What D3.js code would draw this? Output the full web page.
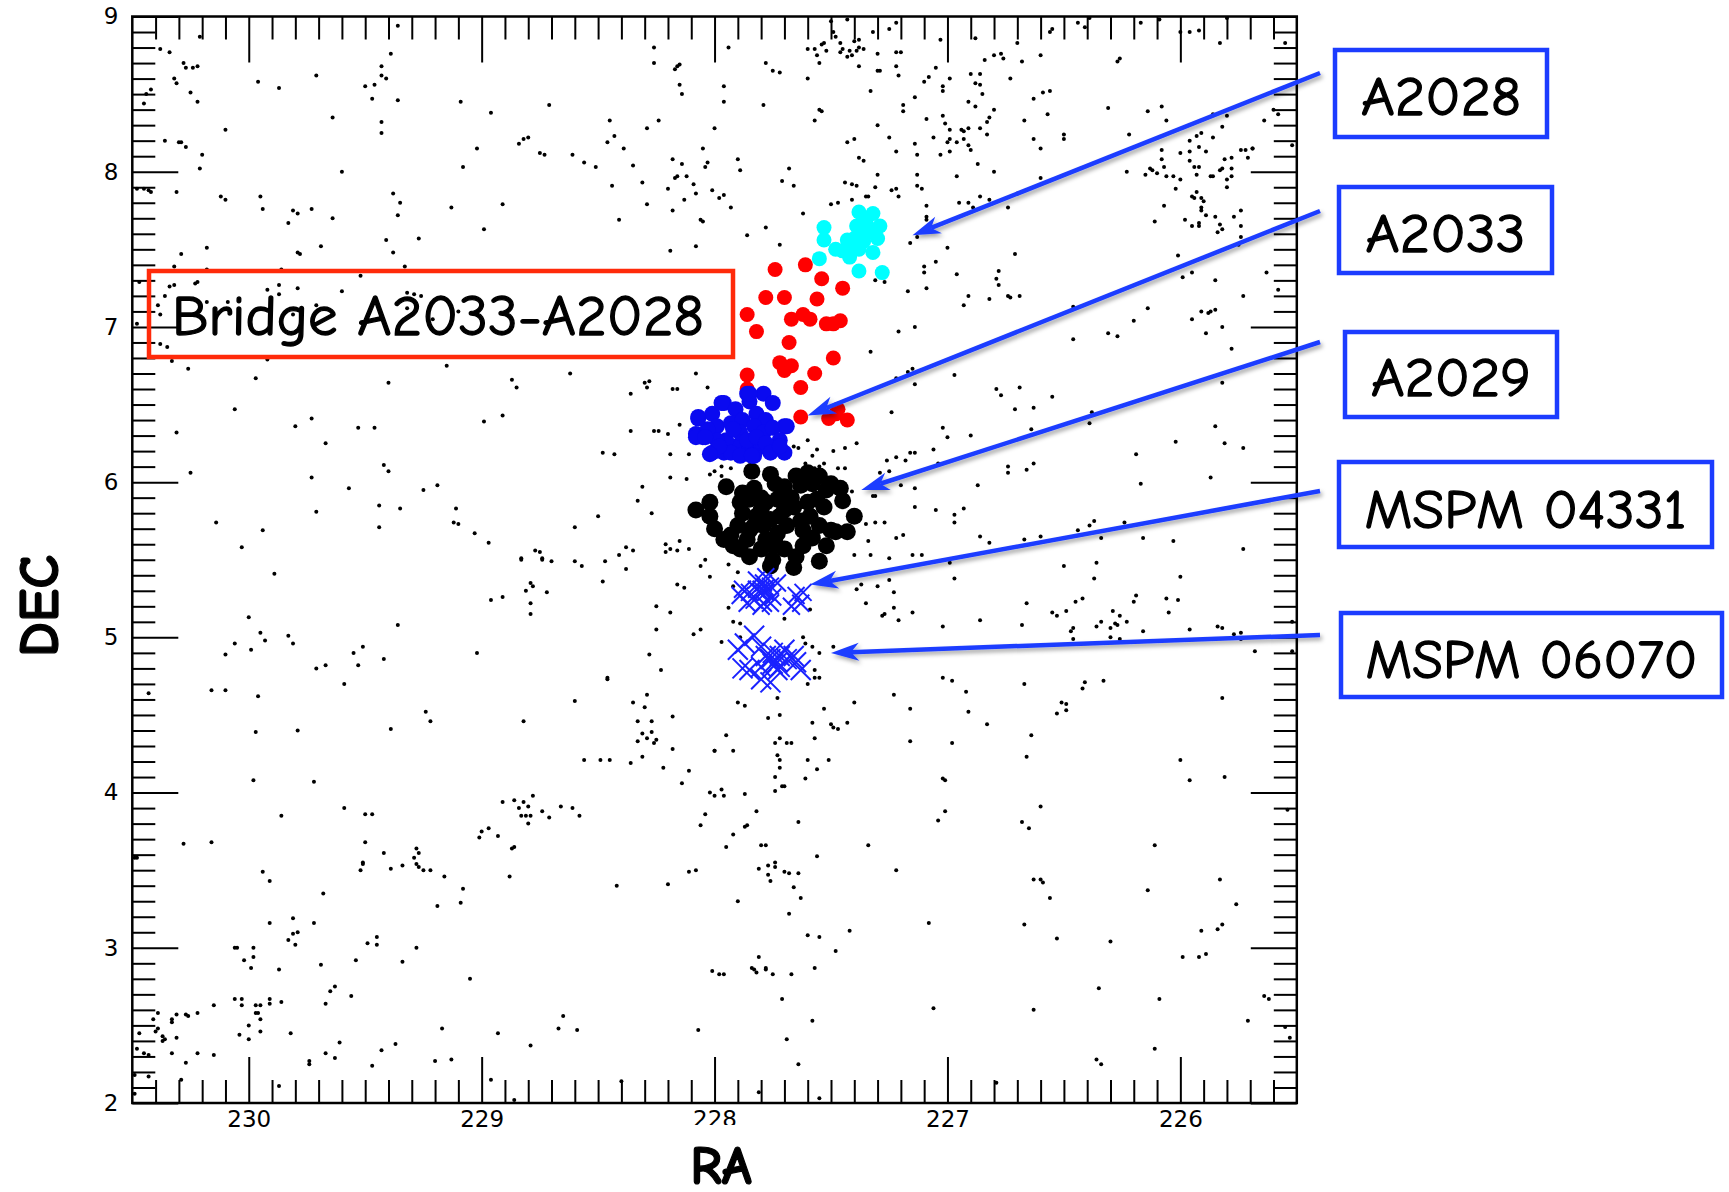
<!DOCTYPE html>
<html>
<head>
<meta charset="utf-8">
<script src="https://cdn.jsdelivr.net/npm/d3@7"></script>
<style>
  html, body { margin: 0; padding: 0; background: #fff; }
  svg { display: block; }
</style>
</head>
<body>
<svg id="chart" width="1729" height="1192"></svg>
<script>
// ---- Field galaxies: [RA, DEC] in degrees ----
const fieldGalaxies = [
[229.36,8.94],[230.21,8.87],[230.38,8.79],[230.34,8.77],[230.28,8.70],[230.27,8.67],[230.24,8.67],[230.22,8.68],[230.32,8.60],[230.31,8.57],[230.25,8.51],[230.22,8.45],[230.42,8.53],[230.44,8.50],[230.45,8.44],[229.96,8.58],[229.87,8.54],[229.71,8.62],[229.39,8.76],[229.43,8.68],[229.43,8.62],[229.41,8.60],[229.50,8.55],[229.46,8.56],[229.47,8.47],[229.36,8.46],[229.43,8.32],[229.43,8.25],[229.64,8.35],[229.09,8.45],[228.96,8.38],[228.71,8.43],[228.26,8.80],[228.26,8.70],[228.17,8.66],[228.15,8.69],[228.16,8.68],[228.15,8.56],[228.14,8.50],[228.45,8.33],[228.24,8.33],[228.29,8.28],[228.43,8.23],[228.46,8.19],[228.39,8.15],[228.00,8.28],[228.05,8.15],[228.03,8.06],[228.04,8.03],[228.18,8.08],[228.14,8.05],[228.35,8.04],[228.17,7.96],[228.16,7.97],[228.12,7.97],[228.31,7.93],[228.44,7.91],[228.20,7.89],[228.09,7.92],[228.08,7.86],[228.01,7.88],[228.13,7.82],[228.29,7.79],[228.18,7.75],[228.41,7.69],[228.06,7.69],[228.05,7.68],[228.08,7.52],[228.19,7.49],[228.61,8.11],[228.56,8.06],[228.51,8.03],[228.75,8.12],[228.73,8.11],[228.84,8.18],[228.82,8.21],[228.80,8.22],[229.02,8.15],[229.08,8.03],[229.13,7.77],[228.91,7.79],[228.99,7.63],[229.60,8.00],[230.10,8.27],[230.36,8.20],[230.30,8.19],[230.29,8.19],[230.27,8.16],[230.20,8.11],[230.21,8.02],[230.48,7.89],[230.45,7.89],[230.43,7.88],[230.42,7.87],[230.31,7.87],[230.12,7.84],[230.10,7.82],[229.95,7.84],[229.94,7.76],[229.81,7.75],[229.79,7.73],[229.83,7.67],[229.73,7.76],[229.64,7.70],[229.38,7.86],[229.35,7.80],[229.36,7.72],[229.41,7.56],[229.27,7.57],[229.38,7.48],[229.33,7.39],[229.69,7.52],[229.79,7.48],[229.78,7.47],[230.18,7.51],[230.29,7.47],[230.32,7.39],[230.18,7.37],[229.86,7.37],[229.52,7.33],[228.16,7.36],
[230.47,7.29],[230.34,7.26],[230.32,7.27],[230.23,7.28],[230.22,7.29],[230.36,7.20],[230.39,7.14],[230.38,7.08],[230.18,7.16],[230.09,7.16],[229.92,7.24],[229.87,7.27],[229.87,7.21],[229.79,7.25],[229.60,7.23],[229.71,7.14],[229.81,7.08],[229.32,7.22],[229.29,7.21],[229.26,7.20],[229.32,7.12],[229.45,7.05],[229.43,7.05],[229.21,7.05],[229.10,7.10],[230.38,6.89],[230.35,6.87],[230.48,7.02],
[230.33,6.78],[229.92,6.79],[230.26,6.73],[229.97,6.67],[229.40,6.64],[229.15,6.75],[228.87,6.66],[228.85,6.61],[228.62,6.70],[228.30,6.64],[228.29,6.61],[228.28,6.65],[228.36,6.57],[228.18,6.60],[228.16,6.60],[228.08,6.70],[228.03,6.61],[230.06,6.47],[230.31,6.32],[229.80,6.36],[229.73,6.41],[229.67,6.25],[229.53,6.35],[229.46,6.35],[228.99,6.39],[228.91,6.43],[228.36,6.33],[228.26,6.33],[228.24,6.33],[228.20,6.31],[228.15,6.37],[228.48,6.19],[228.43,6.18],[228.19,6.18],[228.11,6.18],[228.02,6.05],[228.00,6.07],[228.19,6.03],[228.12,6.02],[230.25,6.06],[229.42,6.11],[229.40,6.07],[229.73,6.03],[229.57,5.96],[229.25,5.95],[229.19,5.98],[228.31,5.97],[228.33,5.88],[228.27,5.80],[230.14,5.74],[229.94,5.69],[229.71,5.81],[229.44,5.85],[229.44,5.71],[229.35,5.83],[229.11,5.83],[229.12,5.74],[229.10,5.73],[229.03,5.67],[228.97,5.61],[230.03,5.58],[228.77,5.56],[228.75,5.55],[228.74,5.51],[228.83,5.51],[228.60,5.71],[228.50,5.78],[228.38,5.58],[228.35,5.56],[228.41,5.53],[228.21,5.60],[228.19,5.57],[228.16,5.56],[228.15,5.62],[228.21,5.55],[228.11,5.57],[228.00,5.77],
[227.49,8.90],[227.50,8.97],[227.43,8.98],[227.48,8.87],[227.46,8.83],[227.45,8.79],[227.46,8.77],[227.42,8.78],[227.41,8.75],[227.39,8.78],[227.38,8.80],[227.36,8.79],[227.40,8.84],[227.38,8.85],[227.53,8.83],[227.54,8.82],[227.57,8.79],[227.60,8.79],[227.56,8.75],[227.52,8.78],[227.43,8.74],[227.32,8.90],[227.25,8.92],[227.22,8.96],[227.30,8.76],[227.22,8.77],[227.20,8.77],[227.38,8.68],[227.55,8.70],[227.94,8.80],[227.78,8.70],[227.75,8.65],[227.72,8.64],[227.60,8.60],[227.96,8.55],[227.96,8.45],[227.79,8.43],[227.55,8.40],[227.54,8.39],[227.57,8.33],[227.30,8.65],[227.29,8.65],[227.22,8.68],[227.21,8.62],[227.33,8.52],[227.14,8.48],[227.19,8.43],[227.19,8.39],[227.10,8.58],[227.08,8.61],[227.05,8.67],[227.03,8.85],[227.02,8.55],[227.02,8.52],[226.99,8.60],[227.09,8.34],
[227.02,8.36],[227.01,8.31],[226.99,8.27],[226.99,8.21],[227.00,8.19],[226.96,8.19],[226.93,8.26],[226.91,8.28],[226.93,8.21],[226.91,8.17],[226.90,8.14],[226.94,8.27],[227.06,8.22],[227.03,8.11],[226.99,8.13],[227.14,8.18],[227.13,8.11],[227.22,8.13],[227.25,8.22],[227.30,8.30],[227.43,8.19],[227.40,8.21],[227.38,8.09],[227.36,8.07],
[226.90,8.63],[226.86,8.63],[226.88,8.57],[226.85,8.50],[226.86,8.56],[226.91,8.45],[226.88,8.42],[226.80,8.40],[226.82,8.35],[226.83,8.32],[226.86,8.28],[226.83,8.24],[226.73,8.60],[226.80,8.75],[226.77,8.76],[226.76,8.73],[226.84,8.72],[226.70,8.83],[226.68,8.71],[226.60,8.75],[226.63,8.47],[226.59,8.51],[226.56,8.52],[226.57,8.37],[226.67,8.33],[226.63,8.21],[226.60,8.15],[226.50,8.24],[226.50,8.21],[226.87,8.05],[226.80,8.00],[226.96,7.97],[226.60,7.96],[226.91,7.80],[226.89,7.77],[226.86,7.84],[226.82,7.82],[226.95,7.80],[226.74,7.77],[226.70,7.86],[227.09,7.78],[227.09,7.71],[227.09,7.69],[227.13,7.98],[227.13,7.91],[227.11,7.89],[227.22,7.89],[227.21,7.84],[227.24,7.88],[227.30,7.98],[227.31,7.90],[227.35,7.84],[227.34,7.84],[227.44,7.93],[227.41,7.92],[227.39,7.91],[227.41,7.82],[227.47,7.80],[227.50,7.79],[227.68,8.02],[227.71,7.94],[227.66,7.91],[227.90,8.08],[227.89,8.01],[227.98,7.83],[227.96,7.85],[227.93,7.77],[227.62,7.73],[227.78,7.64],[227.86,7.59],[227.72,7.53],
[227.16,7.54],[227.13,7.58],[227.00,7.51],[227.05,7.42],[227.10,7.39],[227.10,7.35],[227.17,7.23],[227.09,7.25],[226.96,7.34],[226.91,7.20],[226.93,7.14],[226.82,7.18],[226.78,7.36],[226.79,7.31],[226.78,7.27],[226.74,7.20],[226.73,7.19],[226.69,7.20],[226.71,7.47],[227.31,7.30],[227.27,7.29],[227.21,6.97],[227.14,7.00],[227.33,6.84],[227.17,6.71],[227.15,6.73],[227.22,6.67],[227.14,6.63],[226.97,6.69],[227.24,6.45],[226.46,6.92],[226.31,6.96],[226.27,6.94],[226.46,7.13],[226.20,7.04],[226.14,7.12],
[225.95,7.05],[225.91,7.10],[225.88,7.09],[225.87,7.10],[225.85,7.11],[225.89,6.96],[225.82,7.00],[225.78,6.86],[225.73,7.20],[225.63,7.35],[225.58,7.24],[225.69,8.15],[225.64,8.33],[225.60,8.40],[225.58,8.37],[225.55,8.83],[225.52,8.17],
[226.23,8.00],[226.15,7.98],[226.13,8.02],[226.12,8.01],[226.10,7.99],[226.06,7.97],[226.03,7.97],[226.00,7.95],[226.02,7.89],[226.08,8.08],[226.08,8.14],[226.00,8.12],[225.96,8.07],[225.96,8.13],[225.94,8.03],[225.92,8.03],[225.93,7.98],[225.89,8.13],[225.87,7.97],[225.86,7.97],[225.83,8.01],[225.81,8.08],[225.82,8.02],[225.78,8.02],[225.78,8.09],[225.80,7.95],[225.80,7.90],[225.78,7.97],[225.74,8.14],[225.72,8.14],[225.71,8.09],[225.69,8.15],[225.95,7.84],[225.93,7.87],[225.91,7.83],[225.90,7.81],[225.94,7.83],[225.91,7.77],[225.91,7.75],[225.89,7.72],[225.85,7.71],[225.83,7.66],[225.82,7.63],[225.77,7.71],[225.74,7.75],[225.74,7.65],[225.95,7.65],[225.98,7.69],[225.92,7.67],[225.92,7.65],[225.84,7.61],[225.74,7.58],[225.75,7.53],[225.99,7.32],[225.95,7.35],[225.85,7.30],[226.01,7.46],[226.07,7.78],[226.11,7.68],[226.07,8.03],[226.06,8.33],[226.14,8.39],[226.08,8.42],[226.22,8.24],[226.31,8.41],[225.86,8.37],[225.96,8.20],[225.93,8.23],[225.91,8.25],[225.86,8.22],[225.82,8.29],[225.80,8.36],[225.92,8.16],
[226.27,8.71],[226.26,8.73],[226.17,8.96],[226.09,8.98],[226.00,8.90],[225.96,8.90],[225.92,8.91],[225.83,8.83],[225.80,8.99],[226.44,8.96],[226.41,8.93],[226.39,8.99],[226.55,8.92],[226.56,8.90],[226.88,8.86],
[226.79,6.60],[226.77,6.56],[226.69,6.61],[226.71,6.47],[226.63,6.48],[226.55,6.55],[226.39,6.38],[226.38,6.45],[226.64,6.34],[227.02,6.35],[227.00,6.29],[226.90,6.30],[226.19,6.18],[226.17,5.99],[225.87,6.03],[225.82,6.64],[225.85,6.36],[225.81,6.25],[225.73,6.22],[226.02,6.26],[226.74,6.10],[226.74,6.06],[226.66,6.08],[226.63,6.12],[226.87,5.98],[227.14,5.84],[227.05,5.82],[226.97,5.79],[226.93,5.83],[226.97,5.74],[226.86,5.65],[226.82,5.61],[226.67,5.63],[226.60,5.65],[226.39,5.72],[226.37,5.75],[226.44,5.69],[226.34,5.64],[226.24,5.74],[226.16,5.64],[226.03,5.62],[225.73,5.57],
[227.35,5.73],[227.31,5.74],[227.27,5.74],[227.34,5.62],[227.22,5.64],[227.19,5.66],[227.40,5.53],[227.33,5.53],[227.25,5.51],[227.15,5.53],[227.11,5.53],[227.32,5.91],[227.31,5.91],[227.41,5.94],[227.26,6.14],[227.22,6.16],[227.18,6.14],[227.16,6.19],[227.14,6.19],[227.06,6.21],[227.29,6.06],[227.25,6.07],[227.20,5.98],[227.14,5.96],[227.04,6.12],[227.60,6.27],[227.66,6.23],[227.64,6.22],[227.56,6.21],[227.58,6.17],[227.44,6.22],[227.39,6.25],[227.49,6.20],[227.47,6.09],[227.44,6.09],[227.53,6.12],[227.55,6.10],[227.57,6.09],[227.61,6.12],[227.97,6.10],[227.97,6.04],[227.93,6.09],
[229.89,5.41],[230.00,5.13],[229.95,5.03],[229.93,4.98],[229.99,4.92],[230.06,4.96],[230.10,4.89],[229.83,5.01],[229.81,4.96],[230.43,4.64],[230.16,4.66],[230.10,4.66],[229.96,4.62],[229.97,4.39],[229.79,4.40],[229.71,4.80],[229.67,4.82],[229.59,4.70],[229.55,4.90],[229.53,4.82],[229.51,4.94],[229.42,4.86],[229.36,5.08],[229.39,4.41],[229.24,4.52],[229.22,4.46],[229.02,4.90],[228.96,5.24],[228.91,5.26],[228.83,5.50],[228.74,5.50],[228.70,5.49],[228.81,5.30],[228.79,5.35],[228.78,5.33],[228.79,5.22],[228.79,5.15],[228.72,5.29],[228.60,5.49],[228.57,5.46],[228.47,5.49],[228.38,5.44],[228.48,5.36],[228.16,5.34],[228.13,5.32],[228.06,5.46],[228.02,5.39],[228.04,5.50],[228.25,5.20],[228.19,5.16],[228.25,5.05],[228.09,5.02],[228.06,5.05],[228.28,4.89],[228.23,4.79],[228.46,4.74],[228.46,4.73],[228.60,4.59],[228.82,4.46],
[228.35,4.58],[228.30,4.55],[228.29,4.63],[228.33,4.46],[228.27,4.46],[228.18,4.49],[228.31,4.38],[228.29,4.35],[228.27,4.39],[228.26,4.32],[228.25,4.34],[228.33,4.33],[228.31,4.23],[228.18,4.28],[228.36,4.19],[228.22,4.16],[228.56,4.21],[228.49,4.21],[228.45,4.21],[228.11,4.14],[228.14,4.06],[228.02,4.00],[228.00,3.98],[228.00,4.27],[228.04,3.86],[228.06,3.79],[228.11,3.49],[228.08,3.50],[228.20,3.41],[228.42,3.40],[228.01,2.85],[228.07,2.47],[228.40,2.14],[228.86,2.02],[228.96,2.15],[228.79,2.37],[228.67,2.48],[228.65,2.56],[228.59,2.47],[228.93,2.45],[229.05,2.80],[229.17,2.48],[229.13,2.28],[229.20,2.27],[229.37,2.38],[229.43,2.34],[229.47,2.24],[229.61,2.39],[229.63,2.29],[229.67,2.32],[229.74,2.27],[229.74,2.25],[229.56,2.69],[229.63,2.75],[229.65,2.72],[229.67,2.64],[229.54,2.92],[229.49,3.03],[229.45,3.07],[229.45,3.02],[229.34,2.91],[229.28,3.00],[229.69,2.89],[229.72,3.16],[229.68,3.35],[229.81,3.19],[229.79,3.10],[229.81,3.09],[229.83,3.05],[229.80,3.02],[229.91,3.16],[229.87,2.86],[229.86,2.65],
[229.91,2.67],[229.91,2.64],[229.95,2.63],[229.97,2.63],[229.97,2.58],[229.96,2.58],[229.95,2.54],[229.95,2.46],[230.00,2.50],[230.00,2.41],[230.04,2.44],[230.03,2.63],[230.06,2.67],[230.03,2.67],[229.98,3.00],[229.98,2.94],[229.99,2.87],[230.02,2.92],[230.06,3.00],[230.05,3.00],[229.82,2.45],[230.15,2.63],[230.15,2.31],[230.22,2.32],[230.27,2.26],[230.33,2.32],[230.22,2.58],[230.26,2.56],[230.27,2.57],[230.31,2.57],[230.33,2.54],[230.33,2.52],[230.31,2.42],[230.39,2.58],[230.41,2.54],[230.39,2.48],[230.40,2.46],[230.37,2.43],[230.37,2.40],[230.36,2.41],[230.47,2.45],[230.48,2.35],[230.45,2.32],[230.43,2.31],[230.49,2.18],[230.43,2.17],[230.49,2.06],[230.29,2.15],[229.87,2.11],[230.28,3.67],[230.16,3.68],[230.49,3.58],[230.48,3.58],[229.94,3.49],[229.91,3.43],[229.98,4.08],[229.72,4.07],[229.86,3.85],[229.59,3.90],[229.50,3.86],[229.47,3.86],[229.50,3.68],[229.42,3.61],[229.51,3.55],[229.51,3.54],[229.52,3.50],[229.39,3.51],[229.34,3.53],[229.29,3.58],[229.28,3.64],[229.27,3.61],[229.28,3.54],[229.27,3.52],[229.25,3.50],[229.22,3.50],[229.16,3.46],[229.08,3.38],[229.09,3.29],[229.19,3.27],[228.88,3.46],[229.01,3.71],[229.00,3.75],[228.97,3.77],[228.93,3.72],[228.87,3.64],[228.86,3.65],
[228.91,3.94],[228.86,3.95],[228.84,3.90],[228.83,3.85],[228.81,3.85],[228.82,3.94],[228.80,3.91],[228.79,3.85],[228.78,3.98],[228.80,3.80],[228.74,3.88],[228.71,3.84],[228.66,3.91],[228.61,3.90],[228.58,3.85],
[227.94,5.47],[227.90,5.42],[227.92,5.33],[227.94,5.19],[227.92,5.10],[227.89,5.09],[227.97,4.97],[227.89,5.00],[227.59,5.18],[227.70,5.12],[227.62,5.00],[227.61,4.96],[227.58,4.94],[227.55,4.90],[227.49,4.94],[227.57,4.79],[227.57,4.74],[227.55,4.74],[227.60,4.70],[227.73,4.61],[227.90,4.58],[227.87,4.56],[227.77,4.48],[227.72,4.50],[227.53,4.54],[227.58,4.45],[227.57,4.35],[227.50,4.44],[227.49,4.42],[227.47,4.41],[227.43,4.45],[227.40,4.58],[227.72,4.35],[227.74,4.32],[227.69,4.32],[227.67,4.32],[227.95,4.37],[227.92,4.27],[228.00,4.27],[227.73,4.24],[227.72,4.21],[227.72,4.16],[227.74,4.10],[227.74,4.01],[227.71,4.04],[227.70,4.04],[227.60,4.21],[227.51,4.21],[227.56,4.15],[227.61,4.09],[227.97,4.02],[227.96,3.98],[227.87,3.99],[227.82,3.88],[227.87,3.78],[227.86,3.79],[227.92,3.73],[227.64,3.81],[227.95,3.65],[227.80,3.66],[227.78,3.66],[227.56,3.59],
[227.81,3.51],[227.77,3.47],[227.76,3.43],[227.77,3.53],[227.74,3.55],[227.74,3.52],[227.70,3.49],[227.68,3.48],[227.64,3.48],[227.66,3.39],[227.63,3.32],[227.90,3.30],[227.68,3.22],[227.60,3.08],[227.55,3.07],[227.42,3.11],[227.48,2.98],[227.81,2.94],[227.84,2.87],[227.83,2.86],[227.82,2.84],[227.78,2.87],[227.78,2.86],[227.75,2.83],[227.67,2.83],[227.57,2.87],[227.98,2.83],[227.96,2.83],[227.71,2.67],[227.58,2.53],[227.69,2.41],[227.64,2.25],[227.81,2.07],[227.55,2.03],[227.34,3.66],[227.22,3.50],[227.08,3.16],[227.06,2.61],[226.79,2.13],
[227.39,5.31],[227.37,5.34],[227.30,5.33],[227.35,5.22],[227.25,5.37],[227.23,5.29],[227.23,5.19],[227.28,5.14],[227.27,5.15],[227.21,5.11],[227.15,5.16],[226.86,5.11],[227.02,5.07],[226.97,5.38],[226.99,5.48],[227.23,4.63],[227.16,4.54],[227.16,4.33],[227.02,4.74],[226.98,4.72],[226.92,4.65],[226.91,4.52],[226.83,4.44],[226.98,4.32],[227.02,4.09],[227.01,4.08],[227.01,3.88],[227.04,3.82],[226.68,5.08],[226.66,5.22],[226.67,4.70],[226.64,4.37],[226.66,4.23],[226.68,3.81],[226.65,3.77],[226.60,3.91],[226.63,3.44],[226.60,3.44],[226.59,3.42],[226.56,3.32],[226.67,3.15],[226.53,3.06],[226.63,2.60],
[226.55,5.16],[226.53,5.14],[226.49,5.17],[226.50,5.46],[226.45,5.23],[226.42,5.25],[226.47,5.04],[226.46,5.06],[226.46,4.99],[226.36,5.07],[226.34,5.10],[226.29,5.17],[226.28,5.09],[226.27,5.08],[226.26,5.14],[226.23,5.10],[226.30,5.06],[226.30,5.00],[226.26,4.99],[226.36,5.48],[226.37,5.38],[226.20,5.23],[226.19,5.27],[226.16,5.04],[226.06,5.25],[226.05,5.16],[226.01,5.24],[226.00,5.39],[225.96,5.05],[225.84,5.07],[225.82,5.06],[225.77,5.02],[225.74,5.03],[225.74,4.99],[225.68,4.91],[225.52,5.10],[225.52,4.91],[226.42,4.67],[226.41,4.71],[226.33,4.72],[226.51,4.58],[226.49,4.57],[226.49,4.53],[226.53,4.51],[225.82,4.61],[226.00,4.21],[225.96,4.08],[225.81,4.10],[226.11,3.66],[226.14,3.37],[225.83,3.44],[225.76,3.28],[225.91,3.11],[225.84,3.12],[225.82,3.15],[225.99,2.94],[225.92,2.94],[225.89,2.96],[226.30,3.04],[226.35,2.74],[226.09,2.67],[226.11,2.35],[226.36,2.28],[226.34,2.25],[225.71,2.53],[225.64,2.69],[225.62,2.67],[225.55,2.49],[225.53,2.42],[225.54,3.89]
];

// ---- Cluster members: [RA, DEC] ----
const a2028Members = [
[227.38,7.74],[227.32,7.73],[227.29,7.65],[227.30,7.57],[227.39,7.65],[227.35,7.60],[227.36,7.55],[227.38,7.50],[227.41,7.52],[227.43,7.48],[227.45,7.49],[227.48,7.50],[227.43,7.56],[227.40,7.57],[227.33,7.63],[227.32,7.48],[227.38,7.36],[227.28,7.35],[227.53,7.64],[227.53,7.56],[227.55,7.44],[227.42,7.45],[227.35,7.68]
];
const bridgeMembers = [
[227.74,7.37],[227.61,7.40],[227.54,7.31],[227.45,7.25],[227.78,7.19],[227.70,7.19],[227.56,7.18],[227.86,7.08],[227.82,6.97],[227.67,7.05],[227.62,7.08],[227.59,7.05],[227.52,7.02],[227.49,7.02],[227.46,7.04],[227.68,6.90],[227.49,6.80],[227.72,6.77],[227.70,6.72],[227.67,6.75],[227.57,6.70],[227.86,6.69],[227.63,6.61],[227.86,6.60],[227.63,6.42],[227.51,6.41],[227.47,6.47],[227.43,6.40],[227.48,6.44]
];
const a2033Members = [
[227.86,6.57],[227.79,6.57],[227.75,6.51],[227.96,6.51],[228.07,6.42],[228.01,6.44],[227.91,6.47],[227.85,6.52],[227.82,6.44],[227.78,6.40],[227.70,6.36],[228.08,6.31],[228.05,6.29],[227.99,6.36],[227.93,6.38],[227.88,6.40],[227.83,6.36],[227.79,6.32],[227.75,6.35],[227.72,6.27],[227.73,6.23],[227.70,6.19],[228.01,6.19],[227.96,6.19],[227.91,6.23],[227.85,6.21],[227.80,6.23],[227.89,6.32],[227.95,6.27],[227.99,6.27],[228.03,6.34],[227.92,6.34],[227.86,6.27],[227.82,6.29],[227.78,6.25],[227.93,6.19],[227.89,6.17],[227.83,6.17],[227.98,6.23],[227.76,6.19],[228.07,6.41],[228.08,6.29],[228.04,6.29],[228.02,6.18],[227.97,6.51],[227.85,6.57],[227.69,6.36],[227.72,6.23],[227.84,6.17]
];
const a2029Members = [
[227.84,6.07],[227.76,6.05],[227.65,6.04],[227.60,6.06],[227.55,6.04],[227.50,5.99],[227.46,5.96],[227.95,5.97],[227.83,5.96],[227.74,5.99],[227.70,5.97],[227.63,5.98],[227.58,5.99],[227.52,5.95],[227.45,5.88],[227.40,5.78],[227.43,5.68],[227.48,5.68],[227.50,5.69],[228.08,5.82],[228.02,5.87],[228.02,5.78],[228.00,5.70],[227.96,5.63],[227.89,5.87],[227.85,5.89],[227.80,5.90],[227.78,5.87],[227.88,5.80],[227.82,5.78],[227.76,5.76],[227.70,5.82],[227.66,5.84],[227.60,5.87],[227.56,5.89],[227.53,5.84],[227.90,5.72],[227.85,5.69],[227.79,5.72],[227.73,5.67],[227.69,5.72],[227.63,5.75],[227.59,5.78],[227.55,5.72],[227.58,5.64],[227.62,5.59],[227.52,5.59],[227.55,5.49],[227.66,5.45],[227.65,5.52],[227.70,5.57],[227.75,5.59],[227.80,5.57],[227.85,5.52],[227.89,5.57],[227.93,5.66],[227.92,5.59],[227.74,5.61],[227.78,5.63],[227.86,5.63],[227.76,5.46],[227.75,5.50],[227.80,5.82],[227.73,5.89],[227.67,5.90],[227.83,5.72],[227.72,5.78],[227.62,5.69],[227.88,5.93]
];
const mspm04331Members = [
[227.79,5.35],[227.82,5.31],[227.78,5.29],[227.80,5.29],[227.76,5.33],[227.85,5.29],[227.88,5.31],[227.75,5.26],[227.83,5.24],[227.79,5.22],[227.86,5.22],[227.73,5.35],[227.82,5.37],[227.76,5.22],[227.80,5.20],[227.89,5.27],[227.65,5.27],[227.63,5.22],[227.67,5.20],[227.62,5.29],[227.78,5.39],[227.80,5.31],[227.78,5.32]
];
const mspm06070Members = [
[227.83,5.01],[227.90,4.92],[227.87,4.96],[227.80,4.94],[227.75,4.90],[227.76,4.86],[227.72,4.88],[227.73,4.84],[227.69,4.86],[227.66,4.88],[227.65,4.84],[227.80,4.81],[227.85,4.79],[227.80,4.73],[227.76,4.71],[227.73,4.79],[227.78,4.88],[227.63,4.79],[227.70,4.92],[227.88,4.80],[227.75,4.83],[227.72,4.81]
];

// ---- Axis ticks ----
const raMajorTicks = [230, 229, 228, 227, 226];
const decMajorTicks = [2, 3, 4, 5, 6, 7, 8, 9];

// ---- Callout labels and the cluster position each arrow points to ----
const calloutNames = ["A2028", "A2033", "A2029", "MSPM 04331", "MSPM 06070"];
const calloutTargetRA = [227.15, 227.60, 227.37, 227.59, 227.50];
const calloutTargetDEC = [7.59, 6.43, 5.95, 5.34, 4.90];
const bridgeLabel = "Bridge A2033-A2028";

// ---- Layout ----
const plot = { left: 132.3, right: 1296.8, top: 16.5, bottom: 1103 };
const calloutBoxes = [
  { x: 1335, y: 50,  w: 212, h: 87, base: 115, textW: 160 },
  { x: 1339, y: 187, w: 213, h: 86, base: 252, textW: 160 },
  { x: 1345, y: 332, w: 212, h: 85, base: 396, textW: 160 },
  { x: 1339, y: 462, w: 373, h: 85, base: 528, textW: 322 },
  { x: 1341, y: 613, w: 381, h: 84, base: 678, textW: 332 }
];
const calloutTailX = 1320;
const calloutTailY = [73, 211, 342, 491, 635];
const bridgeBox = { x: 149, y: 271, w: 584, h: 86, textX: 172, base: 335, textW: 532 };

const comic = "'Comic Sans MS','Comic Neue',Lato,sans-serif";
const BLUE = "#1c3cff";

const svg = d3.select("#chart");

const x = d3.scaleLinear().domain([230.5, 225.5]).range([plot.left, plot.right]);
const y = d3.scaleLinear().domain([2, 9]).range([plot.bottom, plot.top]);

const defs = svg.append("defs");
const shadow = defs.append("filter").attr("id", "arrowShadow")
  .attr("x", "-10%").attr("y", "-50%").attr("width", "120%").attr("height", "200%");
shadow.append("feDropShadow").attr("dx", 2).attr("dy", 3).attr("stdDeviation", 2)
  .attr("flood-color", "#000").attr("flood-opacity", 0.35);
defs.append("clipPath").attr("id", "plotClip").append("rect")
  .attr("x", plot.left).attr("y", plot.top)
  .attr("width", plot.right - plot.left).attr("height", plot.bottom - plot.top);

// ---- Axes: inward major and minor ticks on all four sides ----
const raMinor = d3.range(225.6, 230.45, 0.1).map(v => +v.toFixed(1)).filter(v => !raMajorTicks.includes(v));
const decMinor = d3.range(2.1, 8.95, 0.1).map(v => +v.toFixed(1)).filter(v => !decMajorTicks.includes(v));
const MAJ = 46, MIN = 23;

function axisGroup(axis, transform) {
  const g = svg.append("g").attr("transform", transform).call(axis);
  g.select(".domain").remove();
  g.selectAll(".tick line").attr("stroke", "#000").attr("stroke-width", 2);
  return g;
}

const xBottom = axisGroup(d3.axisBottom(x).tickValues(raMajorTicks).tickSizeInner(-MAJ).tickSizeOuter(0)
  .tickPadding(8).tickFormat(d3.format("d")), `translate(0,${plot.bottom})`);
axisGroup(d3.axisBottom(x).tickValues(raMinor).tickSizeInner(-MIN).tickSizeOuter(0).tickFormat(""), `translate(0,${plot.bottom})`);
axisGroup(d3.axisTop(x).tickValues(raMajorTicks).tickSizeInner(-MAJ).tickSizeOuter(0).tickFormat(""), `translate(0,${plot.top})`);
axisGroup(d3.axisTop(x).tickValues(raMinor).tickSizeInner(-MIN).tickSizeOuter(0).tickFormat(""), `translate(0,${plot.top})`);
const yLeft = axisGroup(d3.axisLeft(y).tickValues(decMajorTicks).tickSizeInner(-MAJ).tickSizeOuter(0)
  .tickPadding(14).tickFormat(d3.format("d")), `translate(${plot.left},0)`);
axisGroup(d3.axisLeft(y).tickValues(decMinor).tickSizeInner(-MIN).tickSizeOuter(0).tickFormat(""), `translate(${plot.left},0)`);
axisGroup(d3.axisRight(y).tickValues(decMajorTicks).tickSizeInner(-MAJ).tickSizeOuter(0).tickFormat(""), `translate(${plot.right},0)`);
axisGroup(d3.axisRight(y).tickValues(decMinor).tickSizeInner(-MIN).tickSizeOuter(0).tickFormat(""), `translate(${plot.right},0)`);

[xBottom, yLeft].forEach(g => g.selectAll(".tick text")
  .attr("fill", "#000").style("font-family", "'DejaVu Sans',sans-serif").style("font-size", "23px"));

// the 228 label sits partly under the RA title and only its upper part shows
defs.append("clipPath").attr("id", "label228Clip").append("rect")
  .attr("x", -40).attr("y", 0).attr("width", 80).attr("height", 22);
xBottom.selectAll(".tick").filter(d => d === 228).select("text").attr("clip-path", "url(#label228Clip)");

// frame
svg.append("rect").attr("x", plot.left).attr("y", plot.top)
  .attr("width", plot.right - plot.left).attr("height", plot.bottom - plot.top)
  .attr("fill", "none").attr("stroke", "#000").attr("stroke-width", 2.5);

// ---- Points ----
const marks = svg.append("g").attr("clip-path", "url(#plotClip)");

marks.append("g").selectAll("circle").data(fieldGalaxies).join("circle")
  .attr("cx", d => x(d[0])).attr("cy", d => y(d[1])).attr("r", 2).attr("fill", "#000");

function discs(data, r, color) {
  marks.append("g").selectAll("circle").data(data).join("circle")
    .attr("cx", d => x(d[0])).attr("cy", d => y(d[1])).attr("r", r).attr("fill", color);
}
discs(bridgeMembers, 7.5, "#ff0000");
discs(a2028Members, 7.5, "#00ffff");
discs(a2029Members, 8.5, "#000000");
discs(a2033Members, 8, "#0a0af0");

function crosses(data, half) {
  marks.append("g").selectAll("path").data(data).join("path")
    .attr("d", d => {
      const cx = x(d[0]), cy = y(d[1]);
      return `M${cx - half},${cy - half}L${cx + half},${cy + half}M${cx - half},${cy + half}L${cx + half},${cy - half}`;
    })
    .attr("stroke", "#1a22ff").attr("stroke-width", 2).attr("fill", "none");
}
crosses(mspm04331Members, 8.5);
crosses(mspm06070Members, 10);

// ---- Axis titles ----
svg.append("text").attr("x", 721).attr("y", 1184).attr("text-anchor", "middle")
  .style("font-family", comic).style("font-weight", "bold").style("font-size", "54px")
  .attr("stroke", "#000").attr("stroke-width", 1.2).text("RA");
svg.append("text").attr("transform", "translate(58,606) rotate(-90)").attr("text-anchor", "middle")
  .style("font-family", comic).style("font-weight", "bold").style("font-size", "56px")
  .attr("stroke", "#000").attr("stroke-width", 1.2).text("DEC");

// ---- Bridge label ----
svg.append("rect").attr("x", bridgeBox.x).attr("y", bridgeBox.y).attr("width", bridgeBox.w).attr("height", bridgeBox.h)
  .attr("fill", "none").attr("stroke", "#ff2a0a").attr("stroke-width", 4.5);
svg.append("text").attr("x", bridgeBox.textX).attr("y", bridgeBox.base)
  .style("font-family", comic).style("font-size", "56px").attr("fill", "#000")
  .attr("stroke", "#000").attr("stroke-width", 1.3)
  .attr("textLength", bridgeBox.textW).attr("lengthAdjust", "spacingAndGlyphs").text(bridgeLabel);

// ---- Callout arrows and boxes ----
const arrows = svg.append("g").attr("filter", "url(#arrowShadow)");
calloutNames.forEach((name, i) => {
  const b = calloutBoxes[i];
  const x0 = calloutTailX, y0 = calloutTailY[i];
  const x1 = x(calloutTargetRA[i]), y1 = y(calloutTargetDEC[i]);
  const ang = Math.atan2(y1 - y0, x1 - x0);
  const ux = Math.cos(ang), uy = Math.sin(ang);
  const headLen = 28, headHalf = 9, notch = 8;
  const bx = x1 - ux * headLen, by = y1 - uy * headLen;
  const nx = x1 - ux * (headLen - notch), ny = y1 - uy * (headLen - notch);
  arrows.append("line").attr("x1", x0).attr("y1", y0).attr("x2", nx).attr("y2", ny)
    .attr("stroke", BLUE).attr("stroke-width", 4.5);
  arrows.append("path")
    .attr("d", `M${x1},${y1}L${bx - uy * headHalf},${by + ux * headHalf}L${nx},${ny}L${bx + uy * headHalf},${by - ux * headHalf}Z`)
    .attr("fill", BLUE);

  svg.append("rect").attr("x", b.x).attr("y", b.y).attr("width", b.w).attr("height", b.h)
    .attr("fill", "#fff").attr("stroke", BLUE).attr("stroke-width", 4.5);
  svg.append("text").attr("x", b.x + b.w / 2).attr("y", b.base).attr("text-anchor", "middle")
    .style("font-family", comic).style("font-size", "55px").attr("fill", "#000")
    .attr("stroke", "#000").attr("stroke-width", 1.3)
    .attr("textLength", b.textW).attr("lengthAdjust", "spacingAndGlyphs").text(name);
});
</script>
</body>
</html>
